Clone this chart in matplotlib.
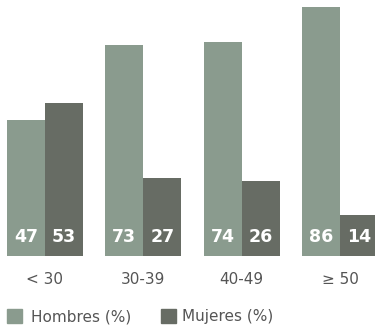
import numpy as np
import matplotlib.pyplot as plt
from matplotlib.patches import Rectangle

# data
grupos = ['< 30', '30-39', '40-49', '≥ 50']
hombres = [47, 73, 74, 86]
mujeres = [53, 27, 26, 14]

c_h = '#8a9b8e'
c_m = '#676c64'
plt.rcParams['font.family'] = ['DejaVu Sans']

fig = plt.figure(figsize=(3.75, 3.29), dpi=100)
ax = fig.add_axes([0, 73 / 329, 1, 256 / 329])

x = np.arange(len(grupos))
w = 0.386
b1 = ax.bar(x - w / 2, hombres, w, color=c_h)
b2 = ax.bar(x + w / 2, mujeres, w, color=c_m)

for bars, vals in [(b1, hombres), (b2, mujeres)]:
    for b, v in zip(bars, vals):
        ax.text(b.get_x() + b.get_width() / 2, 6.6, str(v), ha='center', va='center',
                color='white', fontsize=12.5, fontweight='bold')

ax.set_xlim(-0.4576, 3.356)
ax.set_ylim(0, 88.4)
ax.axis('off')

# category labels under the bars
for xi, g in zip(x, grupos):
    fig.text((xi + 0.4576) / 3.8136, 1 - 280 / 329, g, ha='center', va='center',
             fontsize=11, color='#555555')

# legend
fig.patches.append(Rectangle((7 / 375, 1 - 323 / 329), 15 / 375, 14 / 329,
                              transform=fig.transFigure, color=c_h))
fig.text(31 / 375, 1 - 317 / 329, 'Hombres (%)', va='center', fontsize=11, color='#555555')
fig.patches.append(Rectangle((161 / 375, 1 - 323 / 329), 15 / 375, 14 / 329,
                              transform=fig.transFigure, color=c_m))
fig.text(182 / 375, 1 - 317 / 329, 'Mujeres (%)', va='center', fontsize=11, color='#555555')

fig.savefig('out.png', dpi=100)
